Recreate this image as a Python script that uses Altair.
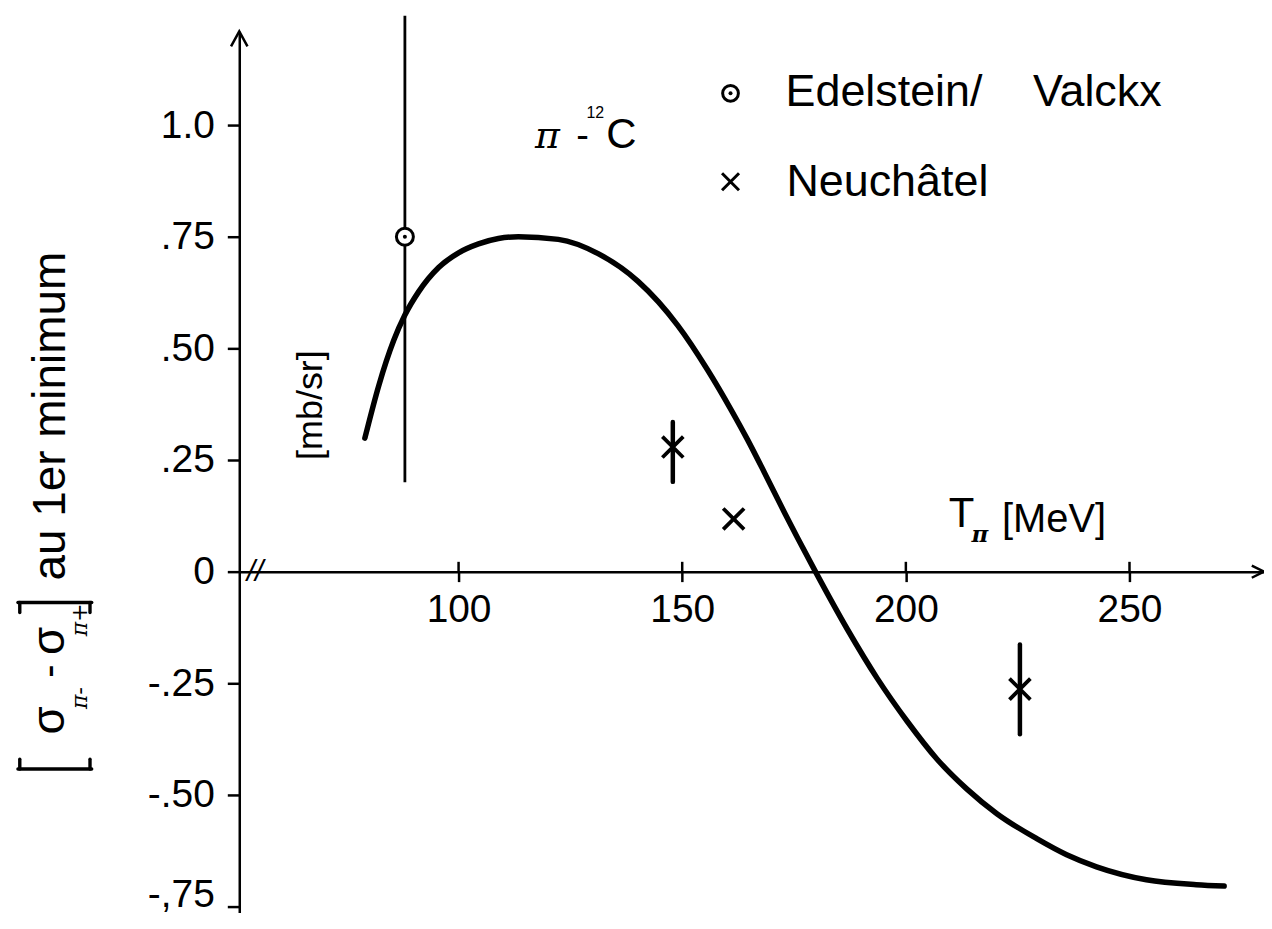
import altair as alt
import pandas as pd

# ---------------- data ----------------
curve_T = [79.05, 82.17, 85.51, 87.97, 91.09, 95.54, 100.0, 104.46, 108.91, 113.37,
           122.29, 131.20, 140.12, 149.03, 155.72, 160.84, 164.63, 168.42, 172.88,
           175.77, 179.79, 186.92, 193.60, 200.29, 206.98, 213.66, 220.35, 229.26,
           235.95, 242.63, 253.78, 264.92, 271.16]
curve_v = [0.299, 0.417, 0.518, 0.574, 0.627, 0.681, 0.714, 0.734, 0.746, 0.750,
           0.744, 0.712, 0.650, 0.551, 0.451, 0.364, 0.295, 0.221, 0.132,
           0.076, 0.0, -0.129, -0.239, -0.335, -0.420, -0.487, -0.542, -0.598,
           -0.634, -0.661, -0.690, -0.701, -0.704]

edel_T = [88.0]
edel_v = [0.75]
edel_lo = [0.20]
edel_hi = [1.245]

neu_T = [147.9, 161.5, 225.5]
neu_v = [0.279, 0.118, -0.263]
neu_bar_T = [147.9, 225.5]
neu_bar_lo = [0.201, -0.364]
neu_bar_hi = [0.335, -0.163]

x_ticks = [100, 150, 200, 250]
y_ticks = [-0.75, -0.5, -0.25, 0.0, 0.25, 0.5, 0.75, 1.0]
y_tick_labels = ["-,75", "-.50", "-.25", "0", ".25", ".50", ".75", "1.0"]

x_domain = [50.97, 280.07]
y_domain = [-0.7634, 1.2098]

# legend positions (data coordinates)
legend_sym_T = [160.8]
legend_circ_v = [1.071]
legend_x_v = [0.873]
legend_text_T = [173.1, 228.4, 173.3]
legend_text_v = [1.074, 1.074, 0.873]
legend_texts = ["Edelstein/", "Valckx", "Neuchâtel"]

# bracket strokes of the y-axis label (data coordinates)
br_T = [1.49, 1.9, 17.6, 1.49, 1.9, 17.6]
br_T2 = [17.98, 1.9, 17.6, 17.98, 1.9, 17.6]
br_v = [-0.442, -0.442, -0.442, -0.0692, -0.0692, -0.0692]
br_v2 = [-0.442, -0.420, -0.420, -0.0692, -0.0915, -0.0915]

FONT = "Liberation Sans"

# ---------------- encodings ----------------
label_expr = " : ".join(
    [f"datum.value == {v} ? '{l}'" for v, l in zip(y_ticks, y_tick_labels)]
) + " : ''"

X = alt.X("T:Q",
          scale=alt.Scale(domain=x_domain, nice=False, zero=False),
          axis=alt.Axis(values=x_ticks, offset=-342, tickSize=10, tickWidth=2.5,
                        domainWidth=2.5, domainColor="black", tickColor="black",
                        labelColor="black", labelFont=FONT, labelFontSize=39,
                        labelPadding=9, title=None, grid=False))
Y = alt.Y("v:Q",
          scale=alt.Scale(domain=y_domain, nice=False, zero=False),
          axis=alt.Axis(values=y_ticks, labelExpr=label_expr, tickSize=12, tickWidth=2.5,
                        domainWidth=2.5, domainColor="black", tickColor="black",
                        labelColor="black", labelFont=FONT, labelFontSize=39,
                        labelPadding=13, title=None, grid=False,
                        labelOffset={"condition": {"test": "datum.value == -0.75", "value": -12},
                                     "value": 0}))
X2 = alt.X2("T2:Q")
Y2 = alt.Y2("v2:Q")


def pts(T, v):
    return pd.DataFrame({"T": T, "v": v})


# curve
curve = alt.Chart(pts(curve_T, curve_v)).mark_line(
    color="black", strokeWidth=5.5, interpolate="monotone", strokeCap="round"
).encode(x=X, y=Y, order="T:Q")

# Edelstein/Valckx point with error line
edel_bar = alt.Chart(pd.DataFrame({"T": edel_T, "v": edel_lo, "v2": edel_hi})).mark_rule(
    color="black", strokeWidth=2.8
).encode(x=X, y=Y, y2=Y2)
edel_circ = alt.Chart(pts(edel_T, edel_v)).mark_point(
    shape="circle", filled=True, fill="white", stroke="black", strokeWidth=3,
    size=290, opacity=1
).encode(x=X, y=Y)
edel_dot = alt.Chart(pts(edel_T, edel_v)).mark_point(
    shape="circle", filled=True, color="black", size=16, opacity=1
).encode(x=X, y=Y)

# Neuchatel points
XPATH = "M-1,-1L1,1M-1,1L1,-1"
neu_bar = alt.Chart(pd.DataFrame({"T": neu_bar_T, "v": neu_bar_lo, "v2": neu_bar_hi})).mark_rule(
    color="black", strokeWidth=4.5, strokeCap="round"
).encode(x=X, y=Y, y2=Y2)
neu_x = alt.Chart(pts(neu_T, neu_v)).mark_point(
    shape=XPATH, filled=False, stroke="black", strokeWidth=3.8, size=440, opacity=1
).encode(x=X, y=Y)

# upper halves of x ticks (ticks cross the axis)
xt_up = alt.Chart(pd.DataFrame({"T": x_ticks, "v": [0.0] * 4, "v2": [0.022] * 4})).mark_rule(
    color="black", strokeWidth=2.5
).encode(x=X, y=Y, y2=Y2)

# arrowheads at axis ends
arrow_up = alt.Chart(pts([x_domain[0]], [y_domain[1]])).mark_point(
    shape="M-0.55,1L0,0L0.55,1", filled=False, stroke="black", strokeWidth=2.5,
    size=900, opacity=1
).encode(x=X, y=Y)
arrow_right = alt.Chart(pts([x_domain[1]], [0.0])).mark_point(
    shape="M-1,-0.5L0,0L-1,0.5", filled=False, stroke="black", strokeWidth=2.5,
    size=600, opacity=1
).encode(x=X, y=Y)

# axis break mark
brk = alt.Chart(pd.DataFrame({"T": [54.5], "v": [0.0], "t": ["//"]})).mark_text(
    font=FONT, fontSize=30, align="center", baseline="middle", color="black", fontStyle="italic"
).encode(x=X, y=Y, text="t:N")

# legend
leg_circ = alt.Chart(pts(legend_sym_T, legend_circ_v)).mark_point(
    shape="circle", filled=False, stroke="black", strokeWidth=3, size=250, opacity=1
).encode(x=X, y=Y)
leg_dot = alt.Chart(pts(legend_sym_T, legend_circ_v)).mark_point(
    shape="circle", filled=True, color="black", size=16, opacity=1
).encode(x=X, y=Y)
leg_x = alt.Chart(pts(legend_sym_T, legend_x_v)).mark_point(
    shape=XPATH, filled=False, stroke="black", strokeWidth=3, size=290, opacity=1
).encode(x=X, y=Y)
leg_txt = alt.Chart(pd.DataFrame({"T": legend_text_T, "v": legend_text_v, "t": legend_texts})).mark_text(
    font=FONT, fontSize=45, align="left", baseline="middle", color="black"
).encode(x=X, y=Y, text="t:N")

# brackets of the y label
brackets = alt.Chart(pd.DataFrame({"T": br_T, "T2": br_T2, "v": br_v, "v2": br_v2})).mark_rule(
    color="black", strokeWidth=3.4, strokeCap="round"
).encode(x=X, x2=X2, y=Y, y2=Y2)


def text_layer(T, v, t, size, angle=0, align="left", baseline="alphabetic",
               font=FONT, style="normal", weight="normal"):
    return alt.Chart(pd.DataFrame({"T": [T], "v": [v], "t": [t]})).mark_text(
        font=font, fontSize=size, angle=angle, align=align, baseline=baseline,
        color="black", fontStyle=style, fontWeight=weight
    ).encode(x=X, y=Y, text="t:N")


annotations = [
    # pi - 12C
    text_layer(117.1, 0.9487, "π", 38, font="DejaVu Serif", style="italic"),
    text_layer(126.3, 0.9487, "-", 38),
    text_layer(128.6, 1.016, "12", 16),
    text_layer(133.0, 0.9487, "C", 42),
    # T_pi [MeV]
    text_layer(209.6, 0.1004, "T", 42),
    text_layer(214.7, 0.066, "π", 23, style="italic", weight="bold", font="DejaVu Serif"),
    text_layer(221.5, 0.089, "[MeV]", 40),
    # [mb/sr]
    text_layer(67.0, 0.373, "[mb/sr]", 36, angle=270, align="center", baseline="middle"),
    # y label (rotated)
    text_layer(8.6, -0.333, "σ", 46, angle=270, align="center", baseline="middle"),
    text_layer(15.4, -0.283, "π-", 22, angle=270, align="center", baseline="middle",
               font="DejaVu Serif", style="italic"),
    text_layer(8.6, -0.223, "-", 40, angle=270, align="center", baseline="middle"),
    text_layer(8.6, -0.155, "σ", 46, angle=270, align="center", baseline="middle"),
    text_layer(15.4, -0.108, "π+", 22, angle=270, align="center", baseline="middle",
               font="DejaVu Serif", style="italic"),
    text_layer(8.8, -0.02, "au 1er minimum", 46, angle=270, align="left", baseline="middle"),
]

chart = alt.layer(
    curve, edel_bar, edel_circ, edel_dot, neu_bar, neu_x, xt_up, arrow_up, arrow_right,
    brk, leg_circ, leg_dot, leg_x, leg_txt, brackets, *annotations
).properties(
    width=1028, height=884,
    padding={"left": 232, "top": 22, "right": 0, "bottom": 0},
    autosize=alt.AutoSizeParams(type="none"),
    background="white",
).configure_view(stroke=None)

chart.save("out.html", embed_options={"renderer": "svg", "actions": False})
